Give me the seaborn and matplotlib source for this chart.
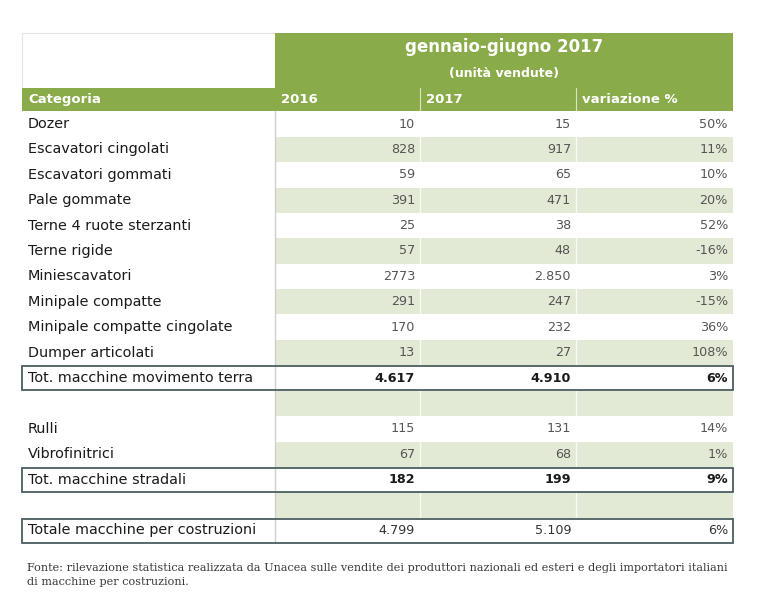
import matplotlib.pyplot as plt
import seaborn as sns
from matplotlib.patches import Rectangle

categories = [
    "Dozer", "Escavatori cingolati", "Escavatori gommati", "Pale gommate",
    "Terne 4 ruote sterzanti", "Terne rigide", "Miniescavatori", "Minipale compatte",
    "Minipale compatte cingolate", "Dumper articolati", "Tot. macchine movimento terra",
    "", "Rulli", "Vibrofinitrici", "Tot. macchine stradali", "", "Totale macchine per costruzioni",
]
sales_2016 = ["10", "828", "59", "391", "25", "57", "2773", "291", "170", "13", "4.617",
              "", "115", "67", "182", "", "4.799"]
sales_2017 = ["15", "917", "65", "471", "38", "48", "2.850", "247", "232", "27", "4.910",
              "", "131", "68", "199", "", "5.109"]
variation = ["50%", "11%", "10%", "20%", "52%", "-16%", "3%", "-15%", "36%", "108%", "6%",
             "", "14%", "1%", "9%", "", "6%"]
header_labels = ["Categoria", "2016", "2017", "variazione %"]
total_rows = [10, 14, 16]
bold_rows = [10, 14]
title = "gennaio-giugno 2017"
subtitle = "(unità vendute)"
footnote = ("Fonte: rilevazione statistica realizzata da Unacea sulle vendite dei produttori nazionali "
            "ed esteri e degli importatori italiani\ndi macchine per costruzioni.")

GREEN = "#8aab4a"
LIGHT = "#e2e9d5"
BOX = "#4a5e60"

sns.set_theme(style="white")
plt.rcParams["font.family"] = ["DejaVu Sans"]

fig = plt.figure(figsize=(7.68, 6), dpi=100)
ax = fig.add_axes([0, 0, 1, 1])
ax.set_xlim(0, 768)
ax.set_ylim(600, 0)
ax.axis("off")

col_edges = [22, 275, 420, 576, 733]
row_top = 111.3
row_h = 25.4

# header blocks
ax.add_patch(Rectangle((22, 33), 253, 55, facecolor="white", edgecolor="#e4e4e4", lw=0.8))
ax.add_patch(Rectangle((275, 33), 458, 56, facecolor=GREEN, edgecolor="none"))
ax.add_patch(Rectangle((22, 88), 711, row_top - 88, facecolor=GREEN, edgecolor="none"))
ax.text(504, 47, title, ha="center", va="center", color="white", fontsize=12, fontweight="bold")
ax.text(504, 73, subtitle, ha="center", va="center", color="white", fontsize=9, fontweight="bold")
for x in col_edges[2:4]:
    ax.plot([x, x], [88, row_top], color="#d9e3c6", lw=0.8)
header_y = (88 + row_top) / 2
for i, lab in enumerate(header_labels):
    ax.text(col_edges[i] + 6, header_y, lab, ha="left", va="center", color="white",
            fontsize=9.5, fontweight="bold")

# body rows
for i, name in enumerate(categories):
    top = row_top + i * row_h
    yc = top + row_h / 2
    if i % 2 == 1:
        ax.add_patch(Rectangle((275, top), 458, row_h, facecolor=LIGHT, edgecolor="none"))
    for x in col_edges[2:4]:
        ax.plot([x, x], [top, top + row_h], color="white", lw=1.0, alpha=0.8)
    ax.plot([275, 275], [top, top + row_h], color="#d0d0d0", lw=1.0)
    if i in total_rows:
        ax.add_patch(Rectangle((22, top + 1), 711, row_h - 1.5, facecolor="none",
                               edgecolor=BOX, lw=1.3, zorder=5))
    bold = i in bold_rows
    weight = "bold" if bold else "normal"
    num_color = "#1a1a1a" if bold else ("#333333" if i in total_rows else "#555555")
    ax.text(28, yc, name, ha="left", va="center", fontsize=10.4, color="#1a1a1a")
    values = [sales_2016[i], sales_2017[i], variation[i]]
    for j, val in enumerate(values):
        ax.text(col_edges[j + 2] - 5, yc, val, ha="right", va="center", fontsize=9.2,
                color=num_color, fontweight=weight)

ax.text(27, 575, footnote, ha="left", va="center", fontsize=8.1, color="#3a3a3a",
        family=["DejaVu Serif"], linespacing=1.45)

fig.savefig("out.png", dpi=100)
